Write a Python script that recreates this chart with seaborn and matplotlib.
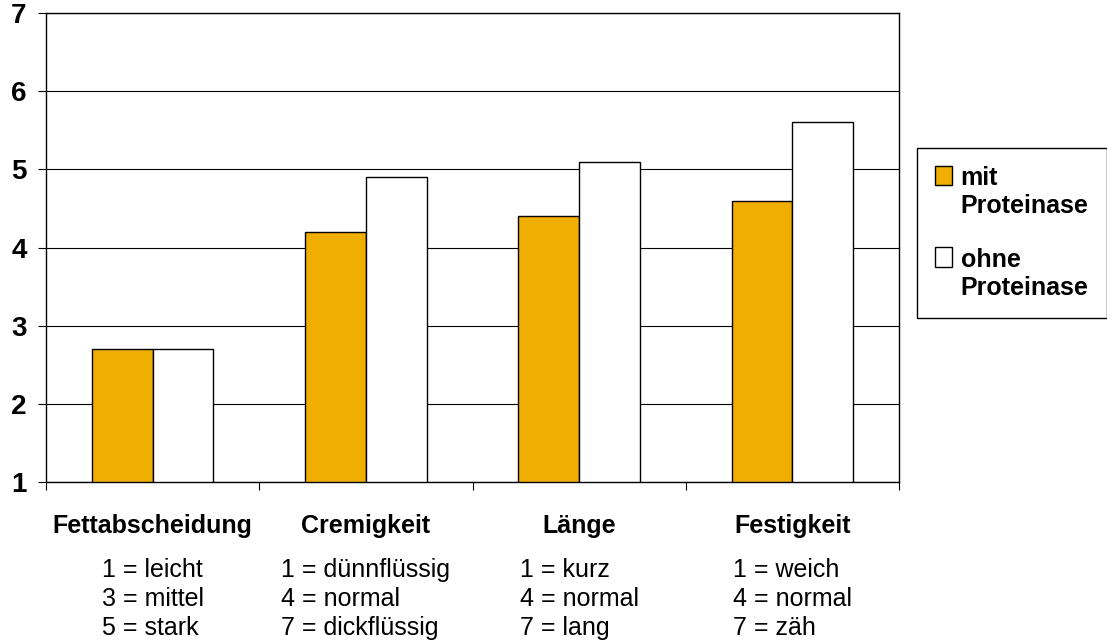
import matplotlib
matplotlib.use("Agg")
import matplotlib.pyplot as plt
import seaborn as sns
import pandas as pd
from matplotlib.patches import Patch, Rectangle
from matplotlib.legend_handler import HandlerPatch

# ---- data ----
categories = ["Fettabscheidung", "Cremigkeit", "Länge", "Festigkeit"]
mit_values = [2.7, 4.2, 4.4, 4.6]
ohne_values = [2.7, 4.9, 5.1, 5.6]
series = ["mit\nProteinase", "ohne\nProteinase"]
descriptions = [
    "1 = leicht\n3 = mittel\n5 = stark",
    "1 = dünnflüssig\n4 = normal\n7 = dickflüssig",
    "1 = kurz\n4 = normal\n7 = lang",
    "1 = weich\n4 = normal\n7 = zäh",
]
yticks = [1, 2, 3, 4, 5, 6, 7]
colors = ["#F0AE00", "#FFFFFF"]

df = pd.DataFrame({
    "Kategorie": categories * 2,
    "Wert": mit_values + ohne_values,
    "Serie": [series[0]] * len(categories) + [series[1]] * len(categories),
})

sns.set_theme(style="white")
plt.rcParams["font.family"] = ["Liberation Sans", "DejaVu Sans"]
for k in ["text.color", "axes.labelcolor", "xtick.color", "ytick.color", "axes.edgecolor"]:
    plt.rcParams[k] = "black"

W, H = 1107, 644
fig = plt.figure(figsize=(W / 100, H / 100), dpi=100)
ax = fig.add_axes([46 / W, 1 - 482 / H, (899 - 46) / W, (482 - 13) / H])

sns.barplot(data=df, x="Kategorie", y="Wert", hue="Serie", order=categories,
            hue_order=series, palette=colors, width=0.57, edgecolor="black",
            linewidth=1, saturation=1, legend=False, ax=ax)

ax.set_ylim(1, 7)
ax.set_xlim(-0.5, len(categories) - 0.5)
ax.set_xlabel("")
ax.set_ylabel("")
ax.yaxis.grid(True, color="black", lw=0.8)
ax.set_axisbelow(True)
for s in ax.spines.values():
    s.set_visible(True)
    s.set_color("black")
    s.set_linewidth(1)

ax.set_yticks(yticks, labels=[str(v) for v in yticks], fontsize=20, fontweight="bold")
ax.tick_params(axis="y", left=True, length=6, width=0.8, pad=8, direction="out")

ax.set_xticks(range(len(categories)), labels=categories, fontsize=18, fontweight="bold")
ax.tick_params(axis="x", which="major", bottom=True, length=0, pad=23)
ax.set_xticks([i - 0.5 for i in range(len(categories) + 1)], minor=True)
ax.tick_params(axis="x", which="minor", bottom=True, length=6, width=0.8, direction="out")

for i, d in enumerate(descriptions):
    ax.text(i, -0.163, d, transform=ax.get_xaxis_transform(), ha="center", va="top",
            multialignment="left", fontsize=18, linespacing=1.26)


class TopPatchHandler(HandlerPatch):
    def create_artists(self, legend, orig_handle, xdescent, ydescent, width, height,
                       fontsize, trans):
        p = Rectangle((-xdescent, -ydescent + 0.7 * fontsize), width, height,
                      facecolor=orig_handle.get_facecolor(), edgecolor="black",
                      lw=1, transform=trans)
        return [p]


handles = [Patch(facecolor=c, edgecolor="black") for c in colors]
leg = fig.legend(handles, series, loc="upper left",
                 bbox_to_anchor=(917 / W, 1 - 148 / H), bbox_transform=fig.transFigure,
                 borderaxespad=0, frameon=True, fancybox=False, edgecolor="black",
                 framealpha=1, prop={"weight": "bold", "size": 18},
                 handlelength=0.68, handleheight=0.8, handletextpad=0.35,
                 labelspacing=1.2, borderpad=0.72,
                 handler_map={Patch: TopPatchHandler()})
leg.get_frame().set_linewidth(1)

fig.savefig("out.png", dpi=100)
